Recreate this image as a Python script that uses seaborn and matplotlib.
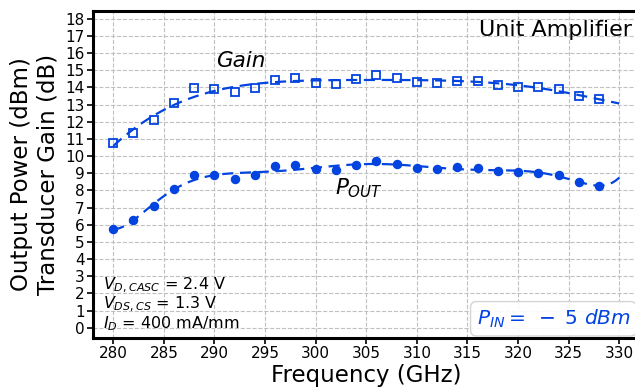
import numpy as np
import pandas as pd
import matplotlib
matplotlib.use("Agg")
import matplotlib.pyplot as plt
import seaborn as sns

# Measured data
freq_ghz = [280, 282, 284, 286, 288, 290, 292, 294, 296, 298, 300, 302, 304,
            306, 308, 310, 312, 314, 316, 318, 320, 322, 324, 326, 328]
gain_db = [10.76, 11.32, 12.11, 13.09, 13.94, 13.90, 13.74, 13.94, 14.42, 14.52,
           14.27, 14.21, 14.50, 14.73, 14.56, 14.33, 14.25, 14.39, 14.39, 14.13,
           14.05, 14.04, 13.90, 13.49, 13.30]
pout_dbm = [5.75, 6.29, 7.07, 8.08, 8.91, 8.87, 8.66, 8.87, 9.40, 9.49, 9.24,
            9.18, 9.47, 9.73, 9.53, 9.30, 9.22, 9.36, 9.32, 9.13, 9.05, 9.03,
            8.89, 8.48, 8.27]
y_ticks = list(range(0, 19))
x_ticks = list(range(280, 331, 5))

blue = "#0343df"

sns.set_theme(style="ticks")
plt.rcParams["font.family"] = ["DejaVu Sans"]
plt.rcParams["mathtext.fontset"] = "dejavusans"
plt.rcParams.update({"text.color": "black", "axes.labelcolor": "black",
                     "xtick.color": "black", "ytick.color": "black"})

df = pd.DataFrame({"freq": freq_ghz, "gain": gain_db, "pout": pout_dbm})

# Polynomial trend lines over the full band (centred frequency for conditioning)
f_fit = np.linspace(280, 330, 300)
fc = df["freq"] - 305
gain_fit = np.polyval(np.polyfit(fc, df["gain"], 6), f_fit - 305)
pout_fit = np.polyval(np.polyfit(fc, df["pout"], 8), f_fit - 305)
fit_df = pd.DataFrame({"freq": f_fit, "gain": gain_fit, "pout": pout_fit})

fig = plt.figure(figsize=(6.35, 3.91), dpi=100)
ax = fig.add_axes([93 / 635, 53 / 391, 546.5 / 635, 327 / 391])

sns.lineplot(data=fit_df, x="freq", y="gain", ax=ax, color=blue, lw=1.6,
             linestyle=(0, (5, 3)))
sns.lineplot(data=fit_df, x="freq", y="pout", ax=ax, color=blue, lw=1.6,
             linestyle=(0, (5, 3)))
ax.plot(df["freq"], df["gain"], linestyle="none", marker="s", ms=5.3,
        mfc="none", mec=blue, mew=1.3)
ax.plot(df["freq"], df["pout"], linestyle="none", marker="o", ms=5.8,
        mfc=blue, mec=blue)

ax.set_xlim(278, 332)
ax.set_ylim(-0.6, 18.45)
ax.set_xticks(x_ticks)
ax.set_yticks(y_ticks)
ax.grid(True, linestyle="--", color="#c0c0c0", lw=0.8)
ax.tick_params(axis="both", labelsize=11, length=4, width=1.2, color="black",
               labelcolor="black", direction="out", pad=2)
for s in ax.spines.values():
    s.set_linewidth(2.2)
    s.set_color("black")

ax.set_xlabel("Frequency (GHz)", fontsize=16.5, labelpad=2)
ax.set_ylabel("Output Power (dBm)\nTransducer Gain (dB)", fontsize=16.5,
              labelpad=4)

ax.text(292.6, 15.55, "Gain", fontsize=15.5, style="italic", ha="center",
        va="center")
ax.text(301.9, 8.1, r"$P_{OUT}$", fontsize=15.5, ha="left", va="center")
ax.text(331.3, 17.35, "Unit Amplifier", fontsize=16, ha="right",
        va="center")
ax.text(279.0, -0.3,
        "$V_{D,CASC}$ = 2.4 V\n$V_{DS,CS}$ = 1.3 V\n$I_D$ = 400 mA/mm",
        fontsize=11.5, ha="left", va="bottom", linespacing=1.0)
ax.text(323.5, 0.52, r"$P_{IN} =\; -\; 5\ dBm$", fontsize=14.5, color=blue,
        ha="center", va="center",
        bbox=dict(boxstyle="round,pad=0.3", fc="white", ec="#d0d0d0",
                  alpha=0.9))

fig.savefig("out.png", dpi=100)
